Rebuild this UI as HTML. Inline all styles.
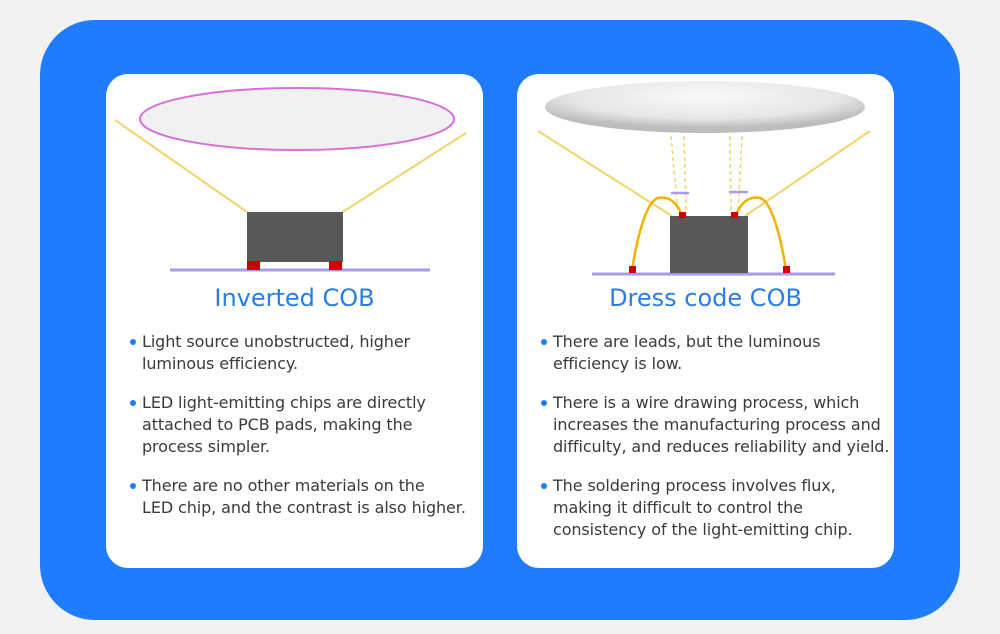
<!DOCTYPE html>
<html><head><style>
body{margin:0;width:1000px;height:634px;background:#f2f2f2;position:relative;overflow:hidden;font-family:"DejaVu Sans","Liberation Sans",sans-serif}
.panel{position:absolute;left:40px;top:20px;width:920px;height:600px;background:#1f7cff;border-radius:55px}
.card{position:absolute;top:74px;width:377px;height:494px;background:#fff;border-radius:22px}
.t{position:absolute;top:210px;width:377px;text-align:center;font-size:24px;color:#2a7de6}
ul{position:absolute;left:36px;top:257px;margin:0;padding:0;list-style:none;font-size:16px;line-height:22px;color:#3a3a3a;white-space:nowrap;letter-spacing:-0.1px}
li{position:relative;margin-bottom:17px}
li:before{content:"";position:absolute;left:-12px;top:8px;width:6px;height:6px;border-radius:50%;background:#1f7cff}
svg{position:absolute;left:0;top:0}
</style></head><body>
<div class="panel"></div>
<div class="card" style="left:106px">
<div class="t">Inverted COB</div>
<ul><li>Light source unobstructed, higher<br>luminous efficiency.</li>
<li>LED light-emitting chips are directly<br>attached to PCB pads, making the<br>process simpler.</li>
<li>There are no other materials on the<br>LED chip, and the contrast is also higher.</li></ul>
</div>
<div class="card" style="left:517px">
<div class="t">Dress code COB</div>
<ul><li>There are leads, but the luminous<br>efficiency is low.</li>
<li>There is a wire drawing process, which<br>increases the manufacturing process and<br>difficulty, and reduces reliability and yield.</li>
<li>The soldering process involves flux,<br>making it difficult to control the<br>consistency of the light-emitting chip.</li></ul>
</div>
<svg width="1000" height="634">
<defs><radialGradient id="g" cx="50%" cy="30%" r="60%"><stop offset="0" stop-color="#fafafa"/><stop offset="0.7" stop-color="#e6e6e6"/><stop offset="1" stop-color="#bdbdbd"/></radialGradient></defs>
<ellipse cx="297" cy="119" rx="157" ry="31" fill="#f1f1f1" stroke="#d66fd6" stroke-width="2"/>
<line x1="115" y1="120" x2="247" y2="212" stroke="#f3d36a" stroke-width="2"/>
<line x1="466" y1="133" x2="341" y2="213" stroke="#f3d36a" stroke-width="2"/>
<line x1="170" y1="270" x2="430" y2="270" stroke="#a99af0" stroke-width="3"/>
<rect x="247" y="212" width="96" height="50" fill="#585858"/>
<rect x="247" y="261" width="13" height="9" fill="#c00"/>
<rect x="329" y="261" width="13" height="9" fill="#c00"/>
<ellipse cx="705" cy="107" rx="160" ry="26" fill="url(#g)"/>
<line x1="538" y1="131" x2="672" y2="216" stroke="#f3d36a" stroke-width="2"/>
<line x1="870" y1="131" x2="745" y2="216" stroke="#f3d36a" stroke-width="2"/>
<g stroke="#f3d36a" stroke-width="1.5" stroke-dasharray="4,3">
<line x1="671" y1="136" x2="678" y2="212"/><line x1="684" y1="136" x2="686" y2="212"/>
<line x1="730" y1="136" x2="731" y2="212"/><line x1="742" y1="136" x2="738" y2="212"/></g>
<line x1="671" y1="193" x2="689" y2="193" stroke="#a99af0" stroke-width="2.5"/>
<line x1="729" y1="192" x2="748" y2="192" stroke="#a99af0" stroke-width="2.5"/>
<line x1="592" y1="274" x2="835" y2="274" stroke="#a99af0" stroke-width="3"/>
<rect x="670" y="216" width="78" height="57" fill="#585858"/>
<path d="M632 270 C640 220,650 200,658 198 C670 195,678 205,682 215" fill="none" stroke="#f0b400" stroke-width="2.5"/>
<path d="M786 270 C778 220,768 200,760 198 C748 195,740 205,736 215" fill="none" stroke="#f0b400" stroke-width="2.5"/>
<rect x="679" y="212" width="7" height="6" fill="#c00"/>
<rect x="731" y="212" width="7" height="6" fill="#c00"/>
<rect x="629" y="266" width="7" height="7" fill="#c00"/>
<rect x="783" y="266" width="7" height="7" fill="#c00"/>
</svg>
</body></html>
